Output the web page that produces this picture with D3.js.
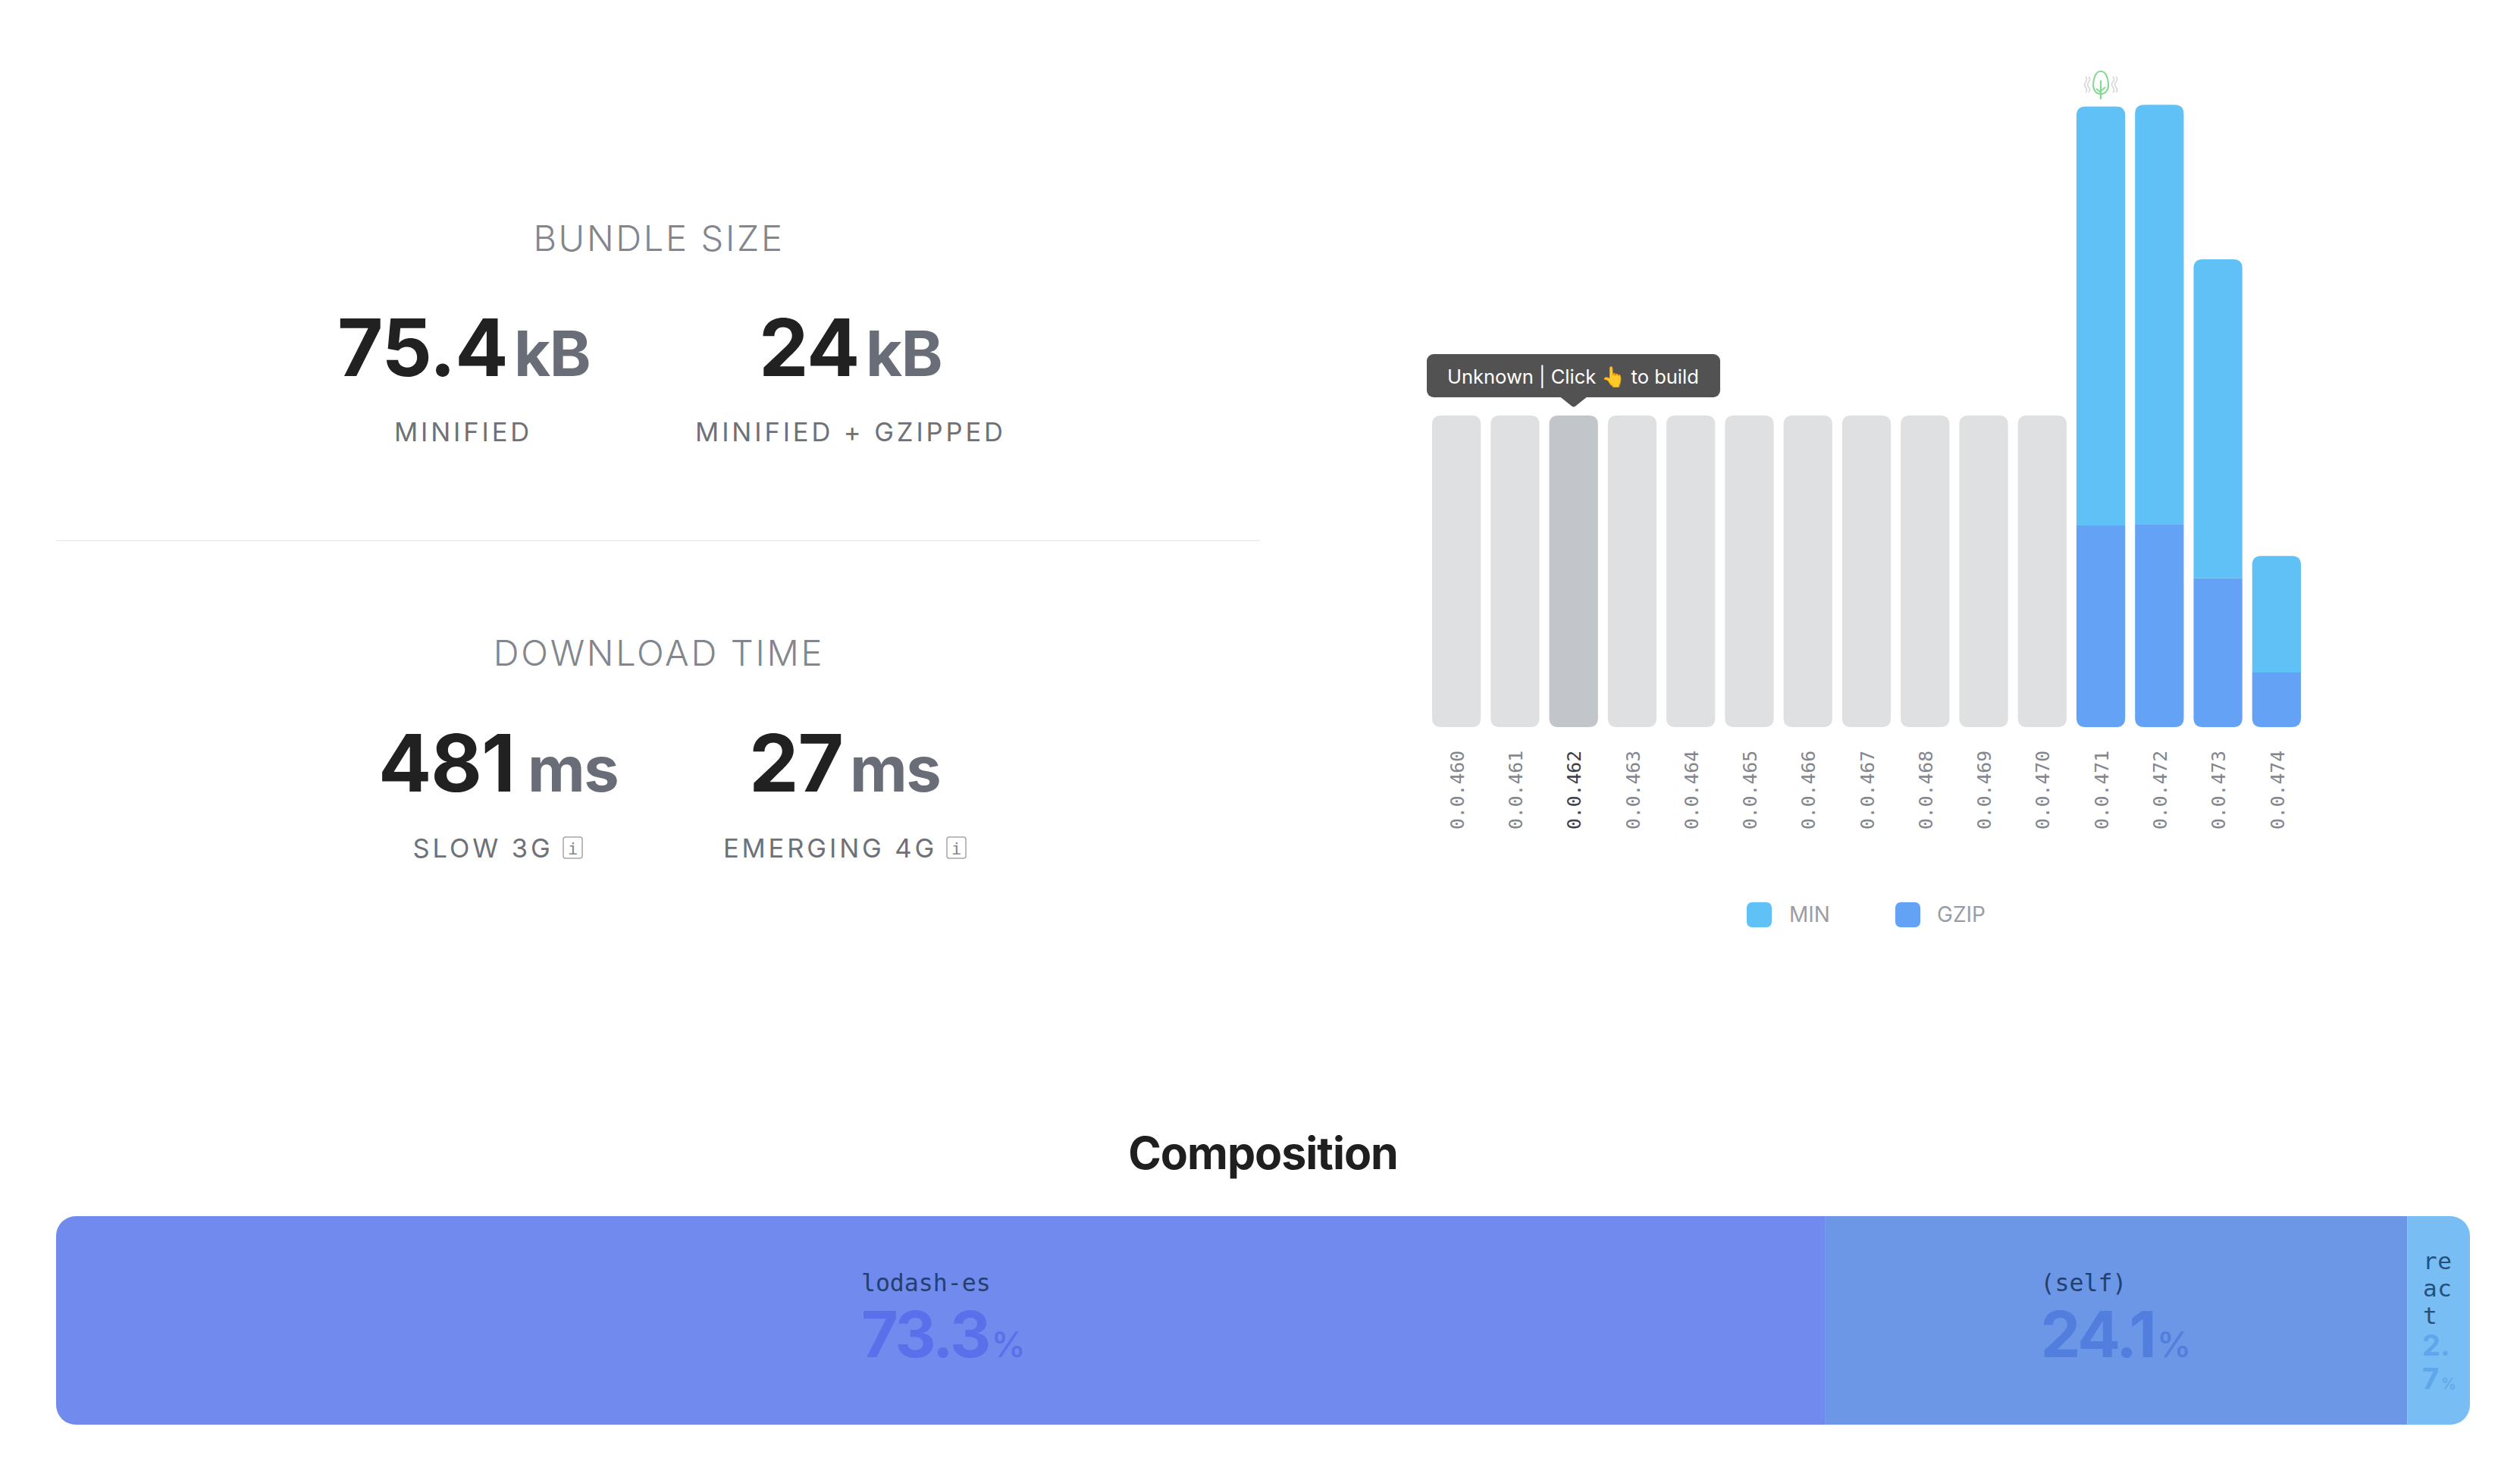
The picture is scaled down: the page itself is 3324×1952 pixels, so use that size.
<!DOCTYPE html>
<html><head><meta charset="utf-8">
<style>html,body{margin:0;background:#fff;overflow:hidden}svg{display:block}</style>
<script src="https://cdnjs.cloudflare.com/ajax/libs/d3/7.8.5/d3.min.js"></script>
</head><body><svg id="c" width="3324" height="1952"></svg>
<script>
const versions=["0.0.460","0.0.461","0.0.462","0.0.463","0.0.464","0.0.465","0.0.466","0.0.467","0.0.468","0.0.469","0.0.470","0.0.471","0.0.472","0.0.473","0.0.474"];
const minSizes=[null,null,null,null,null,null,null,null,null,null,null,75.1,75.3,56.6,20.7];
const gzipSizes=[null,null,null,null,null,null,null,null,null,null,null,24.4,24.5,18.0,6.6];
const unknownPlaceholder=37.7;
const compNames=["lodash-es","(self)","react"];
const compPercents=[73.3,24.1,2.7];
const compColors=["#718aee","#6c97e6","#78bdf3"];
const compValueColors=["#5a70ea","#527edd","#5ea7ec"];
const SANS="Inter,'Noto Sans',sans-serif", MONO="'DejaVu Sans Mono',monospace";
const svg=d3.select("#c");

function rrect(x,y,w,h,rt,rb){
 return `M${x},${y+h-rb}V${y+rt}Q${x},${y} ${x+rt},${y}H${x+w-rt}Q${x+w},${y} ${x+w},${y+rt}V${y+h-rb}Q${x+w},${y+h} ${x+w-rb},${y+h}H${x+rb}Q${x},${y+h} ${x},${y+h-rb}Z`;
}
// bars
const x=d3.scaleBand().domain(versions).range([1889,3035]).paddingInner(13/77.3).paddingOuter(0);
const y=d3.scaleLinear().domain([0,80]).range([959,87]);
const g=svg.append("g");
versions.forEach((v,i)=>{
 const bx=x(v),w=x.bandwidth();
 if(minSizes[i]==null){
  g.append("path").attr("d",rrect(bx,y(unknownPlaceholder),w,y(0)-y(unknownPlaceholder),12,12)).attr("fill",v==="0.0.462"?"#c2c5c9":"#dfe0e2");
 }else{
  g.append("path").attr("d",rrect(bx,y(minSizes[i]),w,y(gzipSizes[i])-y(minSizes[i]),12,0)).attr("fill","#60c1f7");
  g.append("path").attr("d",rrect(bx,y(gzipSizes[i]),w,y(0)-y(gzipSizes[i]),0,12)).attr("fill","#64a2f6");
 }
});
// version labels
versions.forEach(v=>{
 const cx=x(v)+x.bandwidth()/2+1;
 svg.append("text").attr("transform",`translate(${cx},1094) rotate(-90)`).attr("dy","0.35em")
  .attr("font-family",MONO).attr("font-size",24.7).attr("fill",v==="0.0.462"?"#3d4048":"#83868c").text(v);
});
// leaf icon
const lx=x("0.0.471")+x.bandwidth()/2;
const leaf=svg.append("g").attr("fill","none");
leaf.append("path").attr("d",`M${lx},131V111 M${lx},122l-6,-5 M${lx},120l6,-5 M${lx},114v-8`).attr("stroke","#7fd98f").attr("stroke-width",2);
leaf.append("path").attr("d",`M${lx},94C${lx-7},94 ${lx-10},104 ${lx-10},112C${lx-10},119 ${lx-6},124 ${lx},124C${lx+6},124 ${lx+10},119 ${lx+10},112C${lx+10},104 ${lx+7},94 ${lx},94Z`).attr("stroke","#7fd98f").attr("stroke-width",2);
[-20,-16,16,20].forEach(o=>{
 const sx=lx+o;
 leaf.append("path").attr("d",`M${sx},101q3,3.5 0,7q-3,3.5 0,7q3,3.5 0,7`).attr("stroke","#d3d5d8").attr("stroke-width",1.5);
});
// tooltip
const tt=svg.append("g");
tt.append("rect").attr("x",1882).attr("y",467).attr("width",387).attr("height",57).attr("rx",9).attr("fill","#525252");
const tcx=x("0.0.462")+x.bandwidth()/2;
tt.append("path").attr("d",`M${tcx-17},524L${tcx-2},536Q${tcx},537 ${tcx+2},536L${tcx+17},524Z`).attr("fill","#525252");
const ttText=tt.append("text").attr("x",1909).attr("y",506).attr("font-family",SANS).attr("font-size",25.5).attr("fill","#fff");
ttText.append("tspan").text("Unknown | Click ");
ttText.append("tspan").attr("font-size",26).text("👆");
ttText.append("tspan").text(" to build");
// legend
[["MIN","#60c1f7",2304,2360],["GZIP","#64a2f6",2500,2555]].forEach(d=>{
 svg.append("rect").attr("x",d[2]).attr("y",1190).attr("width",33).attr("height",33).attr("rx",7).attr("fill",d[1]);
 svg.append("text").attr("x",d[3]).attr("y",1216).attr("font-family",SANS).attr("font-size",28).attr("fill","#9a9da3").text(d[0]);
});
// stats
function center(t,xx,yy,size,fill,ls,weight){
 return svg.append("text").attr("x",xx).attr("y",yy).attr("text-anchor","middle").attr("font-family",SANS)
  .attr("font-size",size).attr("fill",fill).attr("letter-spacing",ls).attr("font-weight",weight||400).text(t);
}
center("BUNDLE SIZE",869,331,47,"#83868d",2.7,300);
center("DOWNLOAD TIME",869,878,47,"#83868d",2.7,300);
svg.append("rect").attr("x",74).attr("y",712).attr("width",1588).attr("height",2).attr("fill","#eeeff0");
function stat(val,unit,xval,base,xunit){
 svg.append("text").attr("x",xval).attr("y",base).attr("font-family",SANS).attr("font-size",104).attr("font-weight",700).attr("letter-spacing",-1).attr("fill","#212121").text(val);
 svg.append("text").attr("x",xunit).attr("y",base).attr("font-family",SANS).attr("font-size",83).attr("font-weight",700).attr("letter-spacing",-1.5).attr("fill","#696d77").text(unit);
}
stat("75.4","kB",445,496,678);
stat("24","kB",1001,496,1142);
stat("481","ms",499,1044,696);
stat("27","ms",988,1044,1121);
center("MINIFIED",611,582,34.5,"#6e7178",3.9);
center("MINIFIED + GZIPPED",1122,582,34.5,"#6e7178",3.9);
center("SLOW 3G",637,1131,34.5,"#6e7178",3.9);
center("EMERGING 4G",1095,1131,34.5,"#6e7178",3.9);
[[743,1104],[1249,1104]].forEach(p=>{
 svg.append("rect").attr("x",p[0]).attr("y",p[1]).attr("width",25).attr("height",28).attr("rx",3).attr("fill","none").attr("stroke","#a4a7ac").attr("stroke-width",1.5);
 svg.append("text").attr("x",p[0]+12.5).attr("y",p[1]+23).attr("text-anchor","middle").attr("font-family",MONO).attr("font-size",22).attr("fill","#85888e").text("i");
});
// composition
center("Composition",1666,1542,59,"#1f1f1f",-1,700);
const cx0=74,cx1=3258;
const cs=d3.scaleLinear().domain([0,100]).range([cx0,cx1]);
let acc=0;
const clipId="cc";
svg.append("clipPath").attr("id",clipId).append("rect").attr("x",cx0).attr("y",1604).attr("width",cx1-cx0).attr("height",275).attr("rx",26);
const cg=svg.append("g").attr("clip-path",`url(#${clipId})`);
compPercents.forEach((p,i)=>{
 const a=cs(acc),b=i===2?cx1:cs(acc+p);acc+=p;
 cg.append("rect").attr("x",a).attr("y",1604).attr("width",b-a).attr("height",275).attr("fill",compColors[i]);
 if(i<2){
  const tx=a+(b-a)/2-(i===0?105:100);
  svg.append("text").attr("x",tx).attr("y",1703).attr("font-family",MONO).attr("font-size",31.5).attr("fill","#24406f").text(compNames[i]);
  const t=svg.append("text").attr("x",tx).attr("y",1790).attr("font-family",SANS).attr("font-size",84).attr("font-weight",700).attr("letter-spacing",-3).attr("fill",compValueColors[i]).text(p.toFixed(1));
  t.append("tspan").attr("font-size",46).attr("font-weight",500).attr("dx",3).attr("letter-spacing",0).text("%");
 }
});
["re","ac","t"].forEach((s,i)=>{
 svg.append("text").attr("x",3196).attr("y",1674+i*36).attr("font-family",MONO).attr("font-size",31).attr("letter-spacing",0.5).attr("fill","#24507f").text(s);
});
const rc=compValueColors[2];
svg.append("text").attr("x",3195).attr("y",1788).attr("font-family",SANS).attr("font-size",38).attr("font-weight",700).attr("fill",rc).text("2.");
const r7=svg.append("text").attr("x",3195).attr("y",1832).attr("font-family",SANS).attr("font-size",38).attr("font-weight",700).attr("fill",rc).text("7");
r7.append("tspan").attr("font-size",20).attr("font-weight",500).attr("dx",3).text("%");
</script></body></html>
